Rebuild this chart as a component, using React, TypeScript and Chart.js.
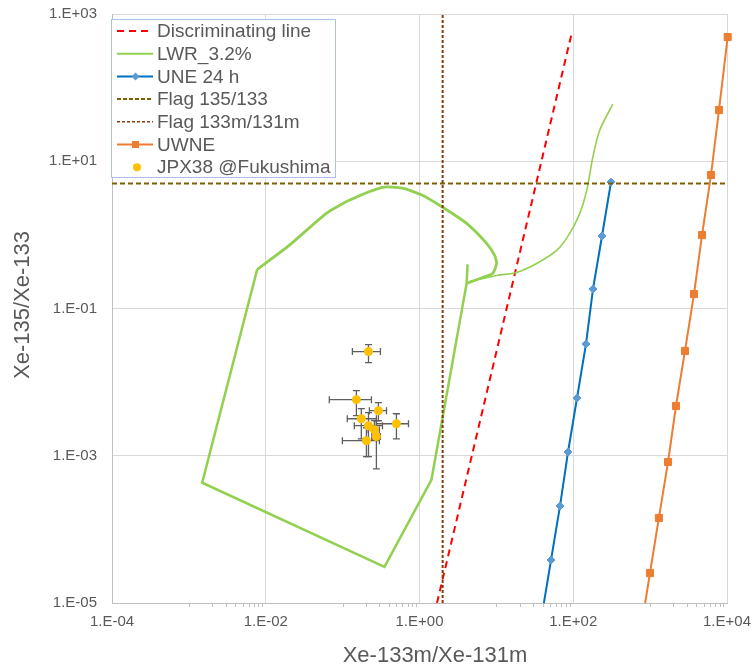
import React, { useEffect, useRef } from 'react';
import { Chart, registerables } from 'chart.js';

Chart.register(...registerables);

// ---------- data ----------
const seriesNames = [
  'Discriminating line',
  'LWR_3.2%',
  'UNE 24 h',
  'Flag 135/133',
  'Flag 133m/131m',
  'UWNE',
  'JPX38 @Fukushima',
];

const xTickValues = [1e-4, 1e-2, 1, 1e2, 1e4];
const xTickLabels = ['1.E-04', '1.E-02', '1.E+00', '1.E+02', '1.E+04'];
const yTickValues = [1e-5, 1e-3, 1e-1, 1e1, 1e3];
const yTickLabels = ['1.E-05', '1.E-03', '1.E-01', '1.E+01', '1.E+03'];
const xTitle = 'Xe-133m/Xe-131m';
const yTitle = 'Xe-135/Xe-133';

const discriminatingX = [1.69, 96.3];
const discriminatingY = [1e-5, 570];

// LWR_3.2%: straight-edged part of the cycle
const lwrEdgeX = [0.00774, 0.00149, 0.35, 1.43, 4.1, 4.22, 4.1];
const lwrEdgeY = [0.34, 4.3e-4, 3.09e-5, 4.71e-4, 0.219, 0.397, 0.219];
// LWR_3.2%: rounded loop and arc of the cycle
const lwrArcX = [4.1, 6.62, 8.93, 10.07, 9.49, 7.46, 4.1, 2.0, 1.09, 0.6, 0.33, 0.122, 0.0614, 0.0202, 0.00774];
const lwrArcY = [0.219, 0.264, 0.299, 0.409, 0.526, 0.766, 1.43, 2.37, 3.45, 4.3, 4.43, 2.95, 1.96, 0.72, 0.34];
// LWR_3.2%: decay tail
const lwrTailX = [4.48, 10.07, 18.4, 33.4, 60.9, 90, 121.6, 150, 179.5, 221, 327];
const lwrTailY = [0.233, 0.281, 0.309, 0.409, 0.615, 1.05, 1.96, 4.03, 11.3, 26.4, 59.7];

const uneX = [310, 236.6, 180.7, 146.5, 111.9, 85.5, 67.3, 51.4, 39.3];
const uneY = [5.22, 0.966, 0.184, 0.033, 0.00608, 0.001125, 2.08e-4, 3.84e-5, 7.1e-6];

const flag135X = [1e-4, 1e4];
const flag135Y = [5, 5];
const flag133mX = [2, 2];
const flag133mY = [1e-5, 1e3];

const uwneX = [10200, 7870, 6190, 4730, 3720, 2840, 2170, 1710, 1300, 995, 760];
const uwneY = [487, 49.7, 6.5, 0.995, 0.157, 0.0265, 0.00474, 8.22e-4, 1.43e-4, 2.55e-5, 4.4e-6];

const jpxX = [0.217, 0.151, 0.292, 0.175, 0.217, 0.501, 0.259, 0.275, 0.204];
const jpxY = [0.026, 0.00578, 0.00409, 0.00318, 0.00256, 0.00272, 0.00226, 0.00182, 0.0016];
const jpxXLow = [0.134, 0.0671, 0.223, 0.115, 0.142, 0.275, 0.215, 0.24, 0.0993];
const jpxXHigh = [0.31, 0.237, 0.372, 0.275, 0.33, 0.719, 0.3, 0.31, 0.301];
const jpxYLow = [0.0184, 0.0035, 0.00299, 0.0017, 0.00097, 0.0017, 0.0017, 0.000665, 0.00097];
const jpxYHigh = [0.0324, 0.00766, 0.00526, 0.00436, 0.00385, 0.00372, 0.003, 0.003, 0.0024];

// ---------- styles ----------
const FONT = '"Liberation Sans", Arial, sans-serif';
const TEXT = '#595959';
const C_RED = '#ff0000';
const C_GREEN = '#92d050';
const C_BLUE = '#0070c0';
const C_BLUE_M = '#5b9bd5';
const C_OLIVE = '#7f6000';
const C_BROWN = '#843c0c';
const C_ORANGE = '#ed7d31';
const C_GOLD = '#ffc000';

const pts = (xs: number[], ys: number[]) => xs.map((x, i) => ({ x, y: ys[i] }));

const JPX_INDEX = 8;

const errorBarPlugin = {
  id: 'errorBars',
  beforeDatasetDraw(chart: any, args: any) {
    if (args.index !== JPX_INDEX) return;
    const { ctx, chartArea, scales } = chart;
    const xs = scales.x;
    const ys = scales.y;
    const cap = 3.5;
    ctx.save();
    ctx.beginPath();
    ctx.rect(chartArea.left, chartArea.top, chartArea.right - chartArea.left, chartArea.bottom - chartArea.top);
    ctx.clip();
    ctx.strokeStyle = '#5f5f5f';
    ctx.lineWidth = 1.3;
    for (let i = 0; i < jpxX.length; i++) {
      const px = xs.getPixelForValue(jpxX[i]);
      const py = ys.getPixelForValue(jpxY[i]);
      const x0 = xs.getPixelForValue(jpxXLow[i]);
      const x1 = xs.getPixelForValue(jpxXHigh[i]);
      const y0 = ys.getPixelForValue(jpxYLow[i]);
      const y1 = ys.getPixelForValue(jpxYHigh[i]);
      ctx.beginPath();
      ctx.moveTo(x0, py); ctx.lineTo(x1, py);
      ctx.moveTo(x0, py - cap); ctx.lineTo(x0, py + cap);
      ctx.moveTo(x1, py - cap); ctx.lineTo(x1, py + cap);
      ctx.moveTo(px, y0); ctx.lineTo(px, y1);
      ctx.moveTo(px - cap, y0); ctx.lineTo(px + cap, y0);
      ctx.moveTo(px - cap, y1); ctx.lineTo(px + cap, y1);
      ctx.stroke();
    }
    ctx.restore();
  },
};

const minorTickPlugin = {
  id: 'minorTicks',
  afterDraw(chart: any) {
    const { ctx, chartArea, scales } = chart;
    const xs = scales.x;
    ctx.save();
    ctx.strokeStyle = '#bfbfbf';
    ctx.lineWidth = 1;
    ctx.beginPath();
    for (const n of [-3, -1, 1, 3]) {
      for (let k = 1; k <= 9; k++) {
        const px = Math.round(xs.getPixelForValue(k * Math.pow(10, n))) + 0.5;
        ctx.moveTo(px, chartArea.bottom);
        ctx.lineTo(px, chartArea.bottom + 4);
      }
    }
    ctx.stroke();
    ctx.restore();
  },
};

const titlesPlugin = {
  id: 'axisTitles',
  afterDraw(chart: any) {
    const { ctx } = chart;
    ctx.save();
    ctx.fillStyle = TEXT;
    ctx.font = `22px ${FONT}`;
    ctx.textAlign = 'center';
    ctx.textBaseline = 'middle';
    ctx.fillText(xTitle, 435, 656);
    ctx.translate(23, 305);
    ctx.rotate(-Math.PI / 2);
    ctx.fillText(yTitle, 0, 0);
    ctx.restore();
  },
};

type LegendStyle = { color: string; dash: number[]; width: number; marker?: string; markerColor?: string; line: boolean };
const legendStyles: LegendStyle[] = [
  { color: C_RED, dash: [7, 5], width: 2, line: true },
  { color: C_GREEN, dash: [], width: 2, line: true },
  { color: C_BLUE, dash: [], width: 2, marker: 'diamond', markerColor: C_BLUE_M, line: true },
  { color: C_OLIVE, dash: [4, 2], width: 2, line: true },
  { color: C_BROWN, dash: [3, 2], width: 1.5, line: true },
  { color: C_ORANGE, dash: [], width: 2, marker: 'square', markerColor: C_ORANGE, line: true },
  { color: C_GOLD, dash: [], width: 0, marker: 'circle', markerColor: C_GOLD, line: false },
];

const legendPlugin = {
  id: 'insideLegend',
  afterDraw(chart: any) {
    const { ctx } = chart;
    const bx = 111, by = 19, bw = 225, bh = 159;
    ctx.save();
    ctx.fillStyle = '#ffffff';
    ctx.fillRect(bx, by, bw, bh);
    ctx.strokeStyle = '#a9c2e8';
    ctx.lineWidth = 1;
    ctx.strokeRect(bx + 0.5, by + 0.5, bw - 1, bh - 1);
    ctx.font = `19px ${FONT}`;
    ctx.textBaseline = 'middle';
    ctx.textAlign = 'left';
    for (let i = 0; i < seriesNames.length; i++) {
      const y = 31 + i * 22.7;
      const st = legendStyles[i];
      if (st.line) {
        ctx.beginPath();
        ctx.setLineDash(st.dash);
        ctx.strokeStyle = st.color;
        ctx.lineWidth = st.width;
        ctx.moveTo(117, y);
        ctx.lineTo(153, y);
        ctx.stroke();
        ctx.setLineDash([]);
      }
      if (st.marker) {
        ctx.fillStyle = st.markerColor;
        ctx.beginPath();
        const cx = 135.5;
        if (st.marker === 'diamond') {
          ctx.moveTo(cx, y - 4); ctx.lineTo(cx + 4, y); ctx.lineTo(cx, y + 4); ctx.lineTo(cx - 4, y); ctx.closePath();
        } else if (st.marker === 'square') {
          ctx.rect(cx - 3.5, y - 3.5, 7, 7);
        } else {
          ctx.arc(137, y, 4, 0, Math.PI * 2);
        }
        ctx.fill();
      }
      ctx.fillStyle = TEXT;
      ctx.fillText(seriesNames[i], 157, y + 1);
    }
    ctx.restore();
  },
};

export default function App() {
  const ref = useRef<HTMLCanvasElement>(null);

  useEffect(() => {
    if (!ref.current) return;
    const lineBase = { showLine: true, pointRadius: 0, pointHoverRadius: 0, tension: 0, fill: false };
    const chart = new Chart(ref.current, {
      type: 'scatter',
      data: {
        datasets: [
          { ...lineBase, label: seriesNames[0], data: pts(discriminatingX, discriminatingY), borderColor: C_RED, borderDash: [7, 5], borderWidth: 2, order: 8, clip: 0 } as any,
          { ...lineBase, label: seriesNames[1], data: pts(lwrEdgeX, lwrEdgeY), borderColor: C_GREEN, borderWidth: 2.5, order: 7 } as any,
          { ...lineBase, label: 'LWR arc', data: pts(lwrArcX, lwrArcY), borderColor: C_GREEN, borderWidth: 2.8, tension: 0.2, order: 7 } as any,
          { ...lineBase, label: 'LWR tail', data: pts(lwrTailX, lwrTailY), borderColor: C_GREEN, borderWidth: 1.6, tension: 0.3, order: 7 } as any,
          { ...lineBase, label: seriesNames[2], data: pts(uneX, uneY), borderColor: C_BLUE, borderWidth: 2, pointRadius: 4, pointStyle: 'rectRot', pointBackgroundColor: C_BLUE_M, pointBorderColor: C_BLUE_M, pointBorderWidth: 1, order: 6, clip: 0 } as any,
          { ...lineBase, label: seriesNames[3], data: pts(flag135X, flag135Y), borderColor: C_OLIVE, borderDash: [5, 3], borderWidth: 2, order: 5, clip: 0 } as any,
          { ...lineBase, label: seriesNames[4], data: pts(flag133mX, flag133mY), borderColor: C_BROWN, borderDash: [3, 2], borderWidth: 2, order: 4, clip: 0 } as any,
          { ...lineBase, label: seriesNames[5], data: pts(uwneX, uwneY), borderColor: C_ORANGE, borderWidth: 2, pointRadius: 5, pointStyle: 'rect', pointBackgroundColor: C_ORANGE, pointBorderColor: C_ORANGE, pointBorderWidth: 1, order: 3, clip: { left: 0, top: 8, right: 8, bottom: 0 } } as any,
          { label: seriesNames[6], data: pts(jpxX, jpxY), showLine: false, pointRadius: 4.5, pointHoverRadius: 4.5, pointBackgroundColor: C_GOLD, pointBorderColor: C_GOLD, pointBorderWidth: 0, order: 1 } as any,
        ],
      },
      options: {
        animation: false,
        responsive: false,
        devicePixelRatio: 1,
        events: [],
        layout: { padding: { top: 14, right: 28, left: 0, bottom: 0 } },
        plugins: { legend: { display: false }, tooltip: { enabled: false }, title: { display: false } },
        scales: {
          x: {
            type: 'logarithmic',
            min: 1e-4,
            max: 1e4,
            afterBuildTicks: (scale: any) => { scale.ticks = xTickValues.map((v) => ({ value: v })); },
            afterFit: (scale: any) => {
              scale.height = 64;
              scale.paddingLeft = 0; scale.paddingRight = 0; scale.paddingTop = 0; scale.paddingBottom = 0;
            },
            ticks: {
              autoSkip: false,
              maxRotation: 0,
              padding: 10,
              color: TEXT,
              font: { family: FONT, size: 15 },
              callback: (v: any) => { const i = xTickValues.indexOf(Number(v)); return i >= 0 ? xTickLabels[i] : ''; },
            },
            grid: { color: '#d9d9d9', lineWidth: 1, drawTicks: false },
            border: { color: '#bfbfbf', width: 1 },
          } as any,
          y: {
            type: 'logarithmic',
            min: 1e-5,
            max: 1e3,
            afterBuildTicks: (scale: any) => { scale.ticks = yTickValues.map((v) => ({ value: v })); },
            afterFit: (scale: any) => {
              scale.width = 112;
              scale.paddingLeft = 0; scale.paddingRight = 0; scale.paddingTop = 0; scale.paddingBottom = 0;
            },
            ticks: {
              autoSkip: false,
              padding: 15,
              color: TEXT,
              font: { family: FONT, size: 15 },
              callback: (v: any) => { const i = yTickValues.indexOf(Number(v)); return i >= 0 ? yTickLabels[i] : ''; },
            },
            grid: { color: '#d9d9d9', lineWidth: 1, drawTicks: false },
            border: { color: '#bfbfbf', width: 1 },
          } as any,
        },
      },
      plugins: [errorBarPlugin, minorTickPlugin, titlesPlugin, legendPlugin],
    });
    return () => chart.destroy();
  }, []);

  return (
    <div style={{ position: 'fixed', left: 0, top: 0, width: 755, height: 667, background: '#ffffff' }}>
      <canvas ref={ref} width={755} height={667} style={{ display: 'block', width: 755, height: 667 }} />
    </div>
  );
}
